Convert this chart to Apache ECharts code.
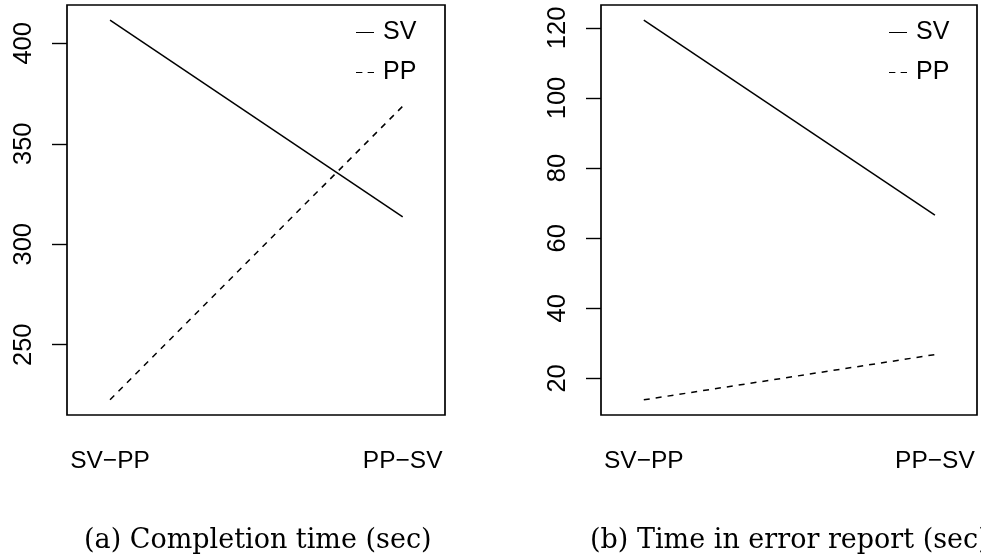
<!DOCTYPE html>
<html>
<head>
<meta charset="utf-8">
<script src="https://cdn.jsdelivr.net/npm/echarts@6/dist/echarts.min.js"></script>
<style>
  html, body { margin: 0; padding: 0; background: #fff; }
  #chart_main { width: 981px; height: 559px; }
</style>
</head>
<body>
<div id="chart_main"></div>
<script>
// categories on the x axis (order of conditions)
var sequences = ['SV\u2212PP', 'PP\u2212SV'];
var groups = ['SV', 'PP'];

// (a) completion time (sec)
var timeSV = [411.5, 313.6];
var timePP = [222.6, 368.7];
// (b) time in error report (sec)
var errSV = [122.2, 66.6];
var errPP = [13.9, 26.8];

// tick labels
var timeTicks = [250, 300, 350, 400];
var errTicks = [20, 40, 60, 80, 100, 120];
var xTicks = [1, 2];

var captions = ['(a) Completion time (sec)', '(b) Time in error report (sec)'];

function pairs(vals) {
  return vals.map(function (v, i) { return [xTicks[i], v]; });
}

// R style: pad range by 4% each side
function padRange(a, b) {
  var all = a.concat(b);
  var lo = Math.min.apply(null, all), hi = Math.max.apply(null, all);
  var d = (hi - lo) * 0.04;
  return [lo - d, hi + d];
}

var labelFont = 'Liberation Sans';
var black = '#000';
// legend keys: plain stroke for SV, two dashes for PP
var solidIcon = 'path://M0,0H18V1H0Z';
var dashIcon = 'path://M0,0H6V1H0Z M11,0H17V1H11Z';

function xAxisFor(idx) {
  return {
    type: 'value', gridIndex: idx, min: 0.853, max: 2.1445,
    axisLine: { show: false },
    splitLine: { show: false },
    axisTick: { show: false },
    axisLabel: {
      customValues: xTicks,
      margin: 34,
      fontSize: 24.5, fontFamily: labelFont, color: black,
      formatter: function (v) { return sequences[Math.round(v) - 1]; }
    }
  };
}

function yAxisFor(idx, range, ticks) {
  return {
    type: 'value', gridIndex: idx, min: range[0], max: range[1],
    axisLine: { show: false },
    splitLine: { show: false },
    axisTick: { show: true, length: 15, customValues: ticks, lineStyle: { color: black, width: 1.4 } },
    axisLabel: {
      customValues: ticks,
      rotate: 90, margin: 30,
      fontSize: 25.5, fontFamily: labelFont, color: black
    }
  };
}

function lineSeries(name, idx, vals, dashed) {
  return {
    name: name, type: 'line', xAxisIndex: idx, yAxisIndex: idx,
    data: pairs(vals), symbol: 'none',
    itemStyle: { color: black },
    lineStyle: { color: black, width: 1.5, type: dashed ? [6, 6] : 'solid' }
  };
}

function legendFor(left) {
  return {
    data: [
      { name: groups[0], icon: solidIcon },
      { name: groups[1], icon: dashIcon }
    ],
    orient: 'vertical', left: left, top: 20, padding: 0,
    itemWidth: 18, itemHeight: 1.6, itemGap: 15,
    selectedMode: false,
    textStyle: { fontSize: 25, fontFamily: labelFont, color: black, padding: [0, 0, 0, 4] }
  };
}

var option = {
  animation: false,
  backgroundColor: '#fff',
  title: [
    { text: captions[0], left: 79, top: 522,
      textStyle: { fontFamily: 'DejaVu Serif', fontWeight: 'normal', fontSize: 27, color: black } },
    { text: captions[1], left: 585, top: 522,
      textStyle: { fontFamily: 'DejaVu Serif', fontWeight: 'normal', fontSize: 27, color: black } }
  ],
  legend: [legendFor(356), legendFor(889)],
  grid: [
    { left: 67, top: 5, width: 378, height: 410, show: true, borderColor: black, borderWidth: 1.7, backgroundColor: 'transparent' },
    { left: 601, top: 5, width: 376, height: 410, show: true, borderColor: black, borderWidth: 1.7, backgroundColor: 'transparent' }
  ],
  xAxis: [xAxisFor(0), xAxisFor(1)],
  yAxis: [
    yAxisFor(0, padRange(timeSV, timePP), timeTicks),
    yAxisFor(1, padRange(errSV, errPP), errTicks)
  ],
  series: [
    lineSeries('SV', 0, timeSV, false),
    lineSeries('PP', 0, timePP, true),
    lineSeries('SV', 1, errSV, false),
    lineSeries('PP', 1, errPP, true)
  ]
};

var myChart = echarts.init(document.getElementById('chart_main'));
myChart.setOption(option);
</script>
</body>
</html>
